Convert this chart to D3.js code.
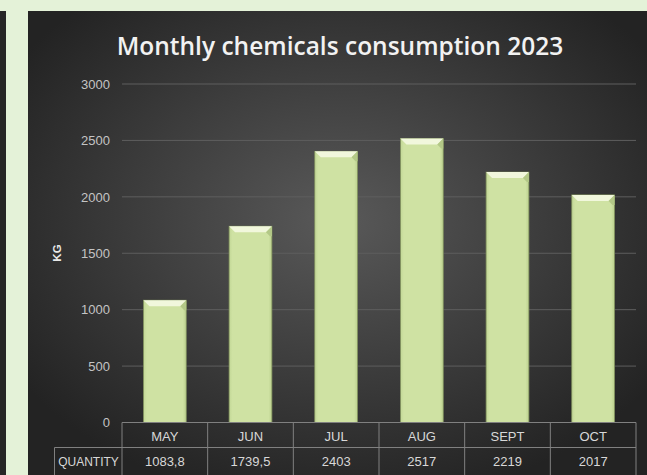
<!DOCTYPE html>
<html>
<head>
<meta charset="utf-8">
<script src="https://cdn.jsdelivr.net/npm/d3@7/dist/d3.min.js"></script>
<style>
  html, body { margin: 0; padding: 0; background: #e4f2d8; }
  svg { display: block; }
</style>
</head>
<body>
<svg id="chart" width="647" height="475"></svg>
<script>
// Monthly consumption in KG
const months = ["MAY", "JUN", "JUL", "AUG", "SEPT", "OCT"];
const quantities = [1083.8, 1739.5, 2403, 2517, 2219, 2017];
const quantityLabels = ["1083,8", "1739,5", "2403", "2517", "2219", "2017"];
const yTicks = [0, 500, 1000, 1500, 2000, 2500, 3000];
const titleText = "Monthly chemicals consumption 2023";
const axisTitle = "KG";
const rowLabel = "QUANTITY";

const W = 647, H = 475;
const svg = d3.select("#chart");

// page frame: light green margin with a dark strip on the far left
svg.append("rect").attr("x", 0).attr("y", 0).attr("width", W).attr("height", H).attr("fill", "#e4f2d8");
svg.append("rect").attr("x", 0).attr("y", 11).attr("width", 6).attr("height", H - 11).attr("fill", "#262626");

const defs = svg.append("defs");
const bg = defs.append("radialGradient").attr("id", "bg")
  .attr("cx", "50%").attr("cy", "45%").attr("r", "62%");
bg.append("stop").attr("offset", "0%").attr("stop-color", "#595959");
bg.append("stop").attr("offset", "100%").attr("stop-color", "#232323");

const barGrad = defs.append("linearGradient").attr("id", "barfill")
  .attr("x1", "0").attr("x2", "1").attr("y1", "0").attr("y2", "0");
barGrad.append("stop").attr("offset", "0%").attr("stop-color", "#c2d796");
barGrad.append("stop").attr("offset", "8%").attr("stop-color", "#cfe2a3");
barGrad.append("stop").attr("offset", "92%").attr("stop-color", "#cfe2a3");
barGrad.append("stop").attr("offset", "100%").attr("stop-color", "#bbd08e");

// chart panel
svg.append("rect").attr("x", 28).attr("y", 11).attr("width", W - 28).attr("height", H - 11)
  .attr("fill", "url(#bg)");

const plot = { left: 122, right: 636, top: 84, bottom: 422.5 };

const x = d3.scaleBand().domain(months).range([plot.left, plot.right]).paddingInner(0.5).paddingOuter(0.25);
const xCell = d3.scaleBand().domain(months).range([plot.left, plot.right]);
const y = d3.scaleLinear().domain([0, 3000]).range([plot.bottom, plot.top]);

// title
svg.append("text")
  .attr("x", 340).attr("y", 55)
  .attr("text-anchor", "middle")
  .attr("font-family", "'Open Sans', 'Noto Sans', sans-serif")
  .attr("font-weight", 600)
  .attr("font-size", 24.5)
  .attr("fill", "#f2f2f2")
  .text(titleText);

// gridlines
svg.append("g").selectAll("line").data(yTicks.filter(d => d > 0)).join("line")
  .attr("x1", plot.left).attr("x2", plot.right)
  .attr("y1", d => y(d)).attr("y2", d => y(d))
  .attr("stroke", "#5e5e5e").attr("stroke-width", 1);

// y axis labels
const yAxis = d3.axisLeft(y).tickValues(yTicks).tickSize(0).tickPadding(0).tickFormat(d3.format("d"));
const gy = svg.append("g").attr("transform", "translate(110,0)").call(yAxis);
gy.select(".domain").remove();
gy.selectAll("text")
  .attr("font-family", "'Liberation Sans', sans-serif")
  .attr("font-size", 13)
  .attr("fill", "#c4c4c4");

// axis title
svg.append("text")
  .attr("transform", "translate(61,253) rotate(-90)")
  .attr("text-anchor", "middle")
  .attr("font-family", "'Liberation Sans', sans-serif")
  .attr("font-weight", 700)
  .attr("font-size", 11.5)
  .attr("fill", "#e8e8e8")
  .text(axisTitle);

// bars with a bevelled top
const bars = svg.append("g").selectAll("g").data(months.map((m, i) => ({ m, v: quantities[i] }))).join("g");
bars.append("rect")
  .attr("x", d => x(d.m)).attr("y", d => y(d.v))
  .attr("width", x.bandwidth()).attr("height", d => y(0) - y(d.v))
  .attr("fill", "url(#barfill)")
  .attr("stroke", "#7f8f5c").attr("stroke-width", 0.8);
bars.append("path")
  .attr("d", d => {
    const x0 = x(d.m), x1 = x0 + x.bandwidth(), t = y(d.v), b = 6;
    return `M${x0},${t}L${x1},${t}L${x1 - b},${t + b}L${x0 + b},${t + b}Z`;
  })
  .attr("fill", "#f1f7dc");
bars.append("path")
  .attr("d", d => {
    const x1 = x(d.m) + x.bandwidth(), t = y(d.v), b = 6;
    return `M${x1},${t}L${x1 - b},${t + b}L${x1 - 2},${t + b + 4}L${x1},${t + b + 4}Z`;
  })
  .attr("fill", "#b3c887");

// data table below the plot
const table = svg.append("g");
const rowTop = plot.bottom, rowMid = 447.5, rowBot = 476;
const lineColor = "#808080";
table.append("line").attr("x1", plot.left).attr("x2", plot.right).attr("y1", rowTop).attr("y2", rowTop)
  .attr("stroke", lineColor);
table.append("line").attr("x1", 54.5).attr("x2", plot.right).attr("y1", rowMid).attr("y2", rowMid)
  .attr("stroke", lineColor);
table.append("line").attr("x1", 54.5).attr("x2", 54.5).attr("y1", rowMid).attr("y2", rowBot)
  .attr("stroke", lineColor);
const edges = months.map(m => xCell(m)).concat([plot.right]);
table.selectAll("line.v").data(edges).join("line").attr("class", "v")
  .attr("x1", d => d).attr("x2", d => d).attr("y1", rowTop).attr("y2", rowBot)
  .attr("stroke", lineColor);

const cellFont = "'Liberation Sans', sans-serif";
table.selectAll("text.m").data(months).join("text").attr("class", "m")
  .attr("x", d => xCell(d) + xCell.bandwidth() / 2).attr("y", 440.5)
  .attr("text-anchor", "middle")
  .attr("font-family", cellFont).attr("font-size", 13).attr("fill", "#d8d8d8")
  .text(d => d);
table.selectAll("text.q").data(quantityLabels).join("text").attr("class", "q")
  .attr("x", (d, i) => xCell(months[i]) + xCell.bandwidth() / 2).attr("y", 466)
  .attr("text-anchor", "middle")
  .attr("font-family", cellFont).attr("font-size", 13).attr("fill", "#d8d8d8")
  .text(d => d);
table.append("text")
  .attr("x", 88.5).attr("y", 466).attr("text-anchor", "middle")
  .attr("font-family", cellFont).attr("font-size", 12).attr("fill", "#d8d8d8")
  .text(rowLabel);
</script>
</body>
</html>
